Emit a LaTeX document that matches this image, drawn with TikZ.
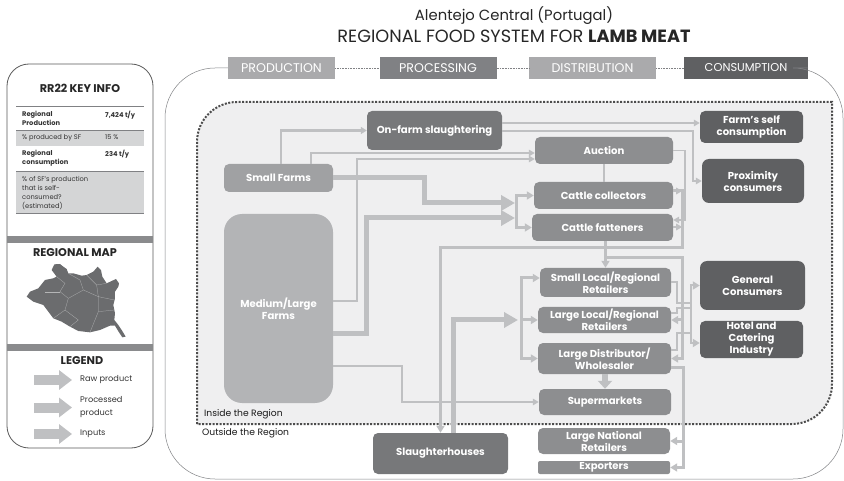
\documentclass[tikz,border=0pt]{standalone}
\usepackage{fontspec}
\setmainfont{Poppins}
\usetikzlibrary{arrows.meta}
\definecolor{flowgray}{HTML}{BFC0C2}
\definecolor{regionbg}{HTML}{EFEFF0}
\definecolor{farmlight}{HTML}{B3B4B6}
\definecolor{farmmid}{HTML}{A0A1A3}
\definecolor{midbox}{HTML}{8D8E90}
\definecolor{darkbox}{HTML}{77787A}
\definecolor{consbox}{HTML}{5F6062}
\definecolor{linegray}{HTML}{808184}
\definecolor{bandgray}{HTML}{8A8B8D}
\definecolor{rowgray}{HTML}{D4D5D6}
\tikzset{
  box/.style={fill=midbox, text=white, rounded corners=5pt, inner sep=0pt, align=center, font=\fontsize{10.1}{12}\selectfont\bfseries},
  headbox/.style={fill=#1, text=white, inner sep=0pt, minimum height=22pt, font=\fontsize{12.6}{14}\selectfont},
  flowbase/.style={draw=flowgray, line join=miter},
  flowthin/.style={flowbase, line width=1.8pt, -{Triangle[length=6pt,width=6.5pt]}},
  flowplain/.style={flowbase, line width=2.5pt},
  flowmid/.style={flowbase, line width=3pt, -{Triangle[length=7pt,width=8pt]}},
  flowboth/.style={flowbase, line width=3pt, {Triangle[length=7pt,width=8pt]}-{Triangle[length=7pt,width=8pt]}},
  flowthick/.style={flowbase, line width=5pt, -{Triangle[length=14pt,width=15pt]}},
  legendflow/.style={draw=flowgray, line width=10pt, -{Triangle[length=13pt,width=19pt]}},
  infotext/.style={inner sep=0pt, anchor=north west, align=left, text=black!80, font=\fontsize{6.7}{9}\selectfont},
  paneltitle/.style={inner sep=0pt, text=black!85, font=\fontsize{11.2}{13}\selectfont\bfseries},
  legendtext/.style={inner sep=0pt, anchor=west, align=left, text=black!80, font=\fontsize{8.2}{13}\selectfont},
  regiontext/.style={inner sep=0pt, anchor=west, text=black!90, font=\fontsize{9.2}{11}\selectfont},
}
\begin{document}
\begin{tikzpicture}[x=1pt,y=-1pt]
\useasboundingbox (0,0) rectangle (844,481);

\node[headbox=farmmid!90, minimum width=107pt] (production) at (281.5,68) {PRODUCTION};
\node[headbox=linegray, minimum width=117pt] (processing) at (438,68) {PROCESSING};
\node[headbox=farmmid!90, minimum width=127pt] (distribution) at (592.5,68) {DISTRIBUTION};
\node[headbox=consbox, minimum width=124pt, font=\fontsize{11.4}{13}\selectfont] (consumption) at (746,68) {CONSUMPTION};

\draw[linegray, line width=0.5pt, rounded corners=50pt] (production.west) -| (165,479) -| (843,68) -- (consumption.east);
\draw[linegray, line width=0.6pt, densely dotted] (production) -- (processing);
\draw[linegray, line width=0.6pt, densely dotted] (processing) -- (distribution);
\draw[linegray, line width=0.6pt, densely dotted] (distribution) -- (consumption);

\draw[fill=regionbg, draw=black!70, line width=2pt, dash pattern=on 2pt off 1.5pt]
  (197,424) -- (197,142) arc (180:270:40) -- (832,102) -- (832,384) arc (0:90:40) -- cycle;

\node[inner sep=0pt, text=black!85, font=\fontsize{14.8}{18}\selectfont] (placename) at (514,16) {Alentejo Central (Portugal)};
\node[inner sep=0pt, text=black!85, font=\fontsize{17.7}{20}\selectfont] (foodtitle) at (514,36) {REGIONAL FOOD SYSTEM FOR \textbf{LAMB MEAT}};

\node[box, fill=darkbox, minimum width=135pt, minimum height=39pt] (onfarm) at (434.5,130.5) {On-farm slaughtering};
\node[box, fill=farmmid, minimum width=109pt, minimum height=28pt] (smallfarms) at (278.5,178) {Small Farms};
\node[box, fill=farmlight, rounded corners=18pt, minimum width=109pt, minimum height=189pt] (medium) at (278.5,308.5) {Medium/Large\\Farms};
\node[box, minimum width=138pt, minimum height=27pt] (auction) at (604,150.5) {Auction};
\node[box, minimum width=139pt, minimum height=27pt] (collectors) at (603.5,195.5) {Cattle collectors};
\node[box, minimum width=141pt, minimum height=27pt] (fatteners) at (602.5,227.5) {Cattle fatteners};
\node[box, minimum width=131pt, minimum height=29pt] (smallretail) at (605.5,282.5) {Small Local/Regional\\Retailers};
\node[box, minimum width=133pt, minimum height=26pt] (largelocal) at (604.5,320) {Large Local/Regional\\Retailers};
\node[box, minimum width=133pt, minimum height=31pt] (largedist) at (604.5,358.5) {Large Distributor/\\Wholesaler};
\node[box, minimum width=132pt, minimum height=26pt] (supermarkets) at (605,402) {Supermarkets};
\node[box, minimum width=132pt, minimum height=26pt] (national) at (604,441) {Large National\\Retailers};
\node[box, rounded corners=2pt, minimum width=132pt, minimum height=13pt] (exporters) at (604,467.5) {Exporters};
\node[box, fill=darkbox, minimum width=135pt, minimum height=41pt] (slaughter) at (440.5,453.5) {Slaughterhouses};
\node[box, fill=consbox, minimum width=103pt, minimum height=32pt] (farmself) at (751.5,127) {Farm's self\\consumption};
\node[box, fill=consbox, rounded corners=7pt, minimum width=102pt, minimum height=44pt] (proximity) at (753,181) {Proximity\\consumers};
\node[box, fill=consbox, rounded corners=7pt, minimum width=105pt, minimum height=49pt] (general) at (752.5,285.5) {General\\Consumers};
\node[box, fill=consbox, minimum width=103pt, minimum height=37pt] (hotel) at (751.5,339.5) {Hotel and\\Catering\\Industry};

\coordinate (cattlebus) at (516,211);
\coordinate (cattlein) at (515,203);
\coordinate (cattleintwo) at (515,218);
\coordinate (retailbus) at (521,320);
\coordinate (fatjoin) at (605.5,258);
\coordinate (fatdown) at (682,320);
\coordinate (distdown) at (683,441);
\coordinate (consbus) at (691,315);
\coordinate (consa) at (691,303);
\coordinate (consb) at (691,308);
\coordinate (consc) at (691,333);

\draw[flowplain, -{Triangle[length=6pt,width=7pt]}] ([xshift=2.5pt]smallfarms.north) |- (onfarm.west);
\draw[flowthin] ([xshift=32.5pt]smallfarms.north) |- ([yshift=-2.5pt]auction.west);
\draw[flowthin] ([yshift=7.5pt]medium.east) -- ++(24,0) |- ([yshift=-8.5pt]auction.west);
\draw[flowthick] (smallfarms.east) -- ++(91,0) |- (cattlein);
\draw[flowthick] ([yshift=-24.5pt]medium.east) -- ++(33,0) |- (cattleintwo);
\draw[flowboth] (collectors.west) -| (cattlebus) |- (fatteners.west);
\draw[flowthin] ([yshift=-57.5pt]medium.east) -- ++(69,0) |- (supermarkets.west);
\draw[flowthin] ([yshift=7.5pt]onfarm.east) -- ([yshift=4pt]farmself.west);
\draw[flowthin] ([yshift=-0.5pt]onfarm.east) -- ++(191,0) |- (proximity.west);
\draw[flowplain] (auction.south) -- (auction.south |- collectors.north);
\draw[flowthin] (auction.east) -- ++(12,0) |- ([yshift=7.5pt]fatteners.east);
\draw[flowthin] ([yshift=4.5pt]collectors.east) -- ++(9,0);
\draw[flowthin] ([yshift=0.5pt]fatteners.east) -- ++(9,0);
\draw[flowmid] ([yshift=4.5pt]collectors.east) -| (682,248) -| (slaughter.north);
\draw[flowmid] (smallretail.north |- fatteners.south) -- (smallretail.north);
\draw[flowmid] (fatjoin) -- ++(76.5,0) |- (largedist.east);
\draw[flowmid] (fatdown) -- (largelocal.east);
\draw[flowthick] ([xshift=12.5pt]slaughter.north) |- ([xshift=-3pt]retailbus);
\draw[flowboth] ([yshift=4.5pt]smallretail.west) -| (retailbus) |- (largedist.west);
\draw[flowmid] (retailbus) -- (largelocal.west);
\draw[flowbase, line width=6pt, -{Triangle[length=8pt,width=14pt]}] (largedist.south -| supermarkets.north) -- (supermarkets.north);
\draw[flowmid] ([yshift=-8.5pt]largedist.east) -- ++(12,0) |- (exporters.east);
\draw[flowmid] (distdown) -- (national.east);
\draw[flowboth, line width=2pt] (general.west) -| (consbus) |- ([yshift=-3.5pt]hotel.west);
\draw[flowbase, line width=2pt] (smallretail.east) -- ++(6,0) |- (consa);
\draw[flowbase, line width=2pt] ([yshift=7pt]largelocal.east) -- ++(6,0) |- (consb);
\draw[flowbase, line width=2pt] ([yshift=8.5pt]largedist.east) -- ++(6,0) |- (consc);

\node[regiontext] (insideregion) at (204,414) {Inside the Region};
\node[regiontext] (outsideregion) at (202,433) {Outside the Region};

\draw[black!65, line width=0.8pt, rounded corners=22pt] (7,64) rectangle (153,448);
\node[paneltitle] (keyinfo) at (80,88) {RR22 KEY INFO};
\fill[rowgray] (16,131) rectangle (144,146);
\fill[rowgray] (16,172) rectangle (144,214);
\draw[linegray, line width=1pt] (16,107) -- (144,107);
\draw[linegray, line width=1pt] (16,131) -- (144,131);
\draw[linegray, line width=1pt] (16,172) -- (144,172);
\draw[linegray, line width=1pt] (16,214) -- (144,214);
\node[infotext] (rowone) at (22,110.5) {\textbf{Regional}\\\textbf{Production}};
\node[infotext] (rowoneval) at (105,110.5) {\textbf{7,424 t/y}};
\node[infotext] (rowtwo) at (22,134.5) {\% produced by SF};
\node[infotext] (rowtwoval) at (105,134.5) {15 \%};
\node[infotext] (rowthree) at (22,150) {\textbf{Regional}\\\textbf{consumption}};
\node[infotext] (rowthreeval) at (105,150) {\textbf{234 t/y}};
\node[infotext] (rowfour) at (22,176) {\% of SF's production\\that is self-\\consumed?\\(estimated)};
\fill[bandgray] (7,236) rectangle (153,243);
\node[paneltitle] (maptitle) at (75,253) {REGIONAL MAP};

\begin{scope}[shift={(15,255)},scale=0.3333]
\fill[darkbox!90!black] (110,45) -- (118,28) -- (135,27) -- (145,35) -- (155,42) -- (160,55) -- (175,55) -- (200,62) -- (215,60) -- (235,50) -- (248,35) -- (258,45) -- (262,65) -- (275,85) -- (290,78) -- (303,72) -- (312,85) -- (310,95) -- (300,110) -- (300,130) -- (295,150) -- (300,175) -- (298,195) -- (310,210) -- (320,225) -- (332,245) -- (322,247) -- (312,232) -- (300,212) -- (285,212) -- (255,225) -- (225,232) -- (190,228) -- (165,215) -- (140,200) -- (115,190) -- (100,170) -- (85,150) -- (55,140) -- (35,125) -- (45,110) -- (70,100) -- (90,75) -- (115,70) -- (125,65) -- cycle;
\draw[darkbox!55!white, line width=0.25pt] (125,65) -- (150,85) -- (135,110) -- (160,130) -- (150,165) -- (115,190);
\draw[darkbox!55!white, line width=0.25pt] (160,55) -- (195,75) -- (205,105) -- (160,130);
\draw[darkbox!55!white, line width=0.25pt] (205,105) -- (250,125) -- (250,170) -- (225,232);
\draw[darkbox!55!white, line width=0.25pt] (215,60) -- (245,90) -- (250,125) -- (298,135);
\draw[darkbox!55!white, line width=0.25pt] (245,90) -- (275,85);
\draw[darkbox!55!white, line width=0.25pt] (250,170) -- (298,165);
\draw[darkbox!55!white, line width=0.25pt] (150,165) -- (190,195) -- (165,215);
\draw[darkbox!55!white, line width=0.25pt] (90,110) -- (135,110);
\end{scope}

\fill[bandgray] (7,344) rectangle (153,351);
\node[paneltitle] (legendtitle) at (82,361) {LEGEND};
\node[legendtext] (rawtext) at (80,380) {Raw product};
\node[legendtext] (processedtext) at (80,407.5) {Processed\\product};
\node[legendtext] (inputstext) at (80,434) {Inputs};
\draw[legendflow] ([xshift=-46pt]rawtext.west) -- ([xshift=-8pt]rawtext.west);
\draw[legendflow] ([xshift=-46pt]processedtext.west) -- ([xshift=-8pt]processedtext.west);
\draw[legendflow] ([xshift=-46pt]inputstext.west) -- ([xshift=-8pt]inputstext.west);
\end{tikzpicture}
\end{document}
